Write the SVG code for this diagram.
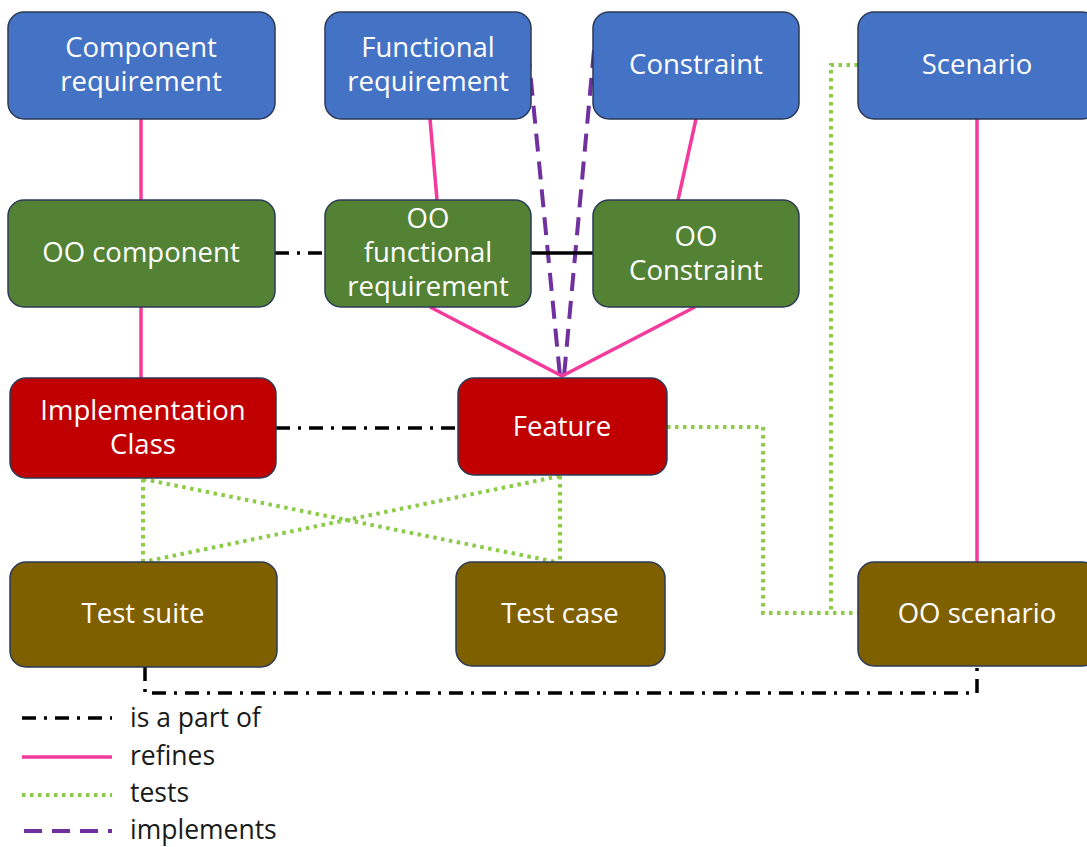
<svg xmlns="http://www.w3.org/2000/svg" width="1087" height="847" viewBox="0 0 1087 847">
<style>
.node rect{stroke:#2b3a55;stroke-width:1.5}
.blue rect{fill:#4472C4}
.green rect{fill:#548235}
.red rect{fill:#C00000}
.brown rect{fill:#7F6000}
.node text{fill:#fff;font-family:"Open Sans","Noto Sans",sans-serif;font-size:27.5px;text-anchor:middle}
.refines{stroke:#F43A9C;stroke-width:3.5;fill:none}
.part{stroke:#000;stroke-width:3.5;fill:none;stroke-dasharray:14 8 3 8}
.solid{stroke:#000;stroke-width:3.5;fill:none}
.tests{stroke:#8CCB48;stroke-width:4;fill:none;stroke-dasharray:3.5 4.5}
.impl{stroke:#7030A0;stroke-width:4;fill:none;stroke-dasharray:18 10}
.legend{fill:#1a1a1a;font-family:"Open Sans","Noto Sans",sans-serif;font-size:26.5px}
</style>
<rect width="1087" height="847" fill="#fff"/>
<g id="connectors">
<path class="impl" d="M528 50 L560 376"/>
<path class="impl" d="M594 50 L564 376"/>
<path class="refines" d="M141 119 V200"/>
<path class="refines" d="M141 307 V378"/>
<path class="refines" d="M430 119 L437 200"/>
<path class="refines" d="M696 119 L678 200"/>
<path class="refines" d="M430 307 L562 376 L695 307"/>
<path class="refines" d="M977 119 V562"/>
<path class="part" d="M275 253 H325"/>
<path class="solid" d="M531 253 H593"/>
<path class="part" d="M276 428 H458"/>
<path class="part" d="M145 667 V693 H977 V666"/>
<path class="tests" d="M143 479 V562"/>
<path class="tests" d="M143 479 L556 562"/>
<path class="tests" d="M560 476 L143 562"/>
<path class="tests" d="M560 476 V562"/>
<path class="tests" d="M667 427 H763 V613 H858"/>
<path class="tests" d="M858 65 H831 V613"/>
</g>
<g id="n-component-req" class="node blue"><rect x="8" y="12" width="267" height="107" rx="16"/><text x="141" y="57">Component</text><text x="141" y="91">requirement</text></g>
<g id="n-functional-req" class="node blue"><rect x="325" y="12" width="206" height="107" rx="16"/><text x="428" y="57">Functional</text><text x="428" y="91">requirement</text></g>
<g id="n-constraint" class="node blue"><rect x="593" y="12" width="206" height="107" rx="16"/><text x="696" y="74">Constraint</text></g>
<g id="n-scenario" class="node blue"><rect x="858" y="12" width="240" height="107" rx="16"/><text x="977" y="74">Scenario</text></g>
<g id="n-oo-component" class="node green"><rect x="8" y="200" width="267" height="107" rx="16"/><text x="141" y="262">OO component</text></g>
<g id="n-oo-functional-req" class="node green"><rect x="325" y="200" width="206" height="107" rx="16"/><text x="428" y="228">OO</text><text x="428" y="262">functional</text><text x="428" y="296">requirement</text></g>
<g id="n-oo-constraint" class="node green"><rect x="593" y="200" width="206" height="107" rx="16"/><text x="696" y="246">OO</text><text x="696" y="280">Constraint</text></g>
<g id="n-impl-class" class="node red"><rect x="10" y="378" width="266" height="100" rx="16"/><text x="143" y="420">Implementation</text><text x="143" y="454">Class</text></g>
<g id="n-feature" class="node red"><rect x="458" y="378" width="209" height="97" rx="16"/><text x="562" y="436">Feature</text></g>
<g id="n-test-suite" class="node brown"><rect x="10" y="562" width="267" height="105" rx="16"/><text x="143" y="623">Test suite</text></g>
<g id="n-test-case" class="node brown"><rect x="456" y="562" width="209" height="104" rx="16"/><text x="560" y="623">Test case</text></g>
<g id="n-oo-scenario" class="node brown"><rect x="858" y="562" width="240" height="104" rx="16"/><text x="977" y="623">OO scenario</text></g>
<g id="legend">
<path class="part" d="M22 718 H112"/>
<text class="legend" x="130" y="727">is a part of</text>
<path class="refines" d="M22 757 H112"/>
<text class="legend" x="130" y="765">refines</text>
<path class="tests" d="M22 795 H112"/>
<text class="legend" x="130" y="802">tests</text>
<path class="impl" d="M24 831 H112"/>
<text class="legend" x="130" y="839">implements</text>
</g>
</svg>
